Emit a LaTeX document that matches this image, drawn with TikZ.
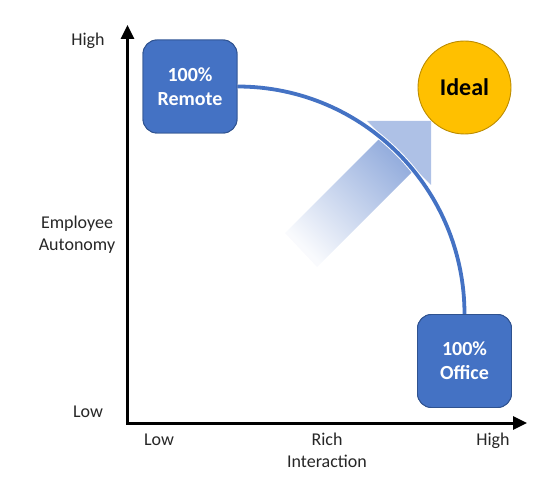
\documentclass[tikz,border=0pt]{standalone}
\usepackage{fontspec}
\setmainfont{Carlito}
\usetikzlibrary{arrows.meta,calc}
\definecolor{boxblue}{HTML}{4472C4}
\definecolor{boxedge}{HTML}{2F528F}
\definecolor{goldfill}{HTML}{FFC000}
\definecolor{goldedge}{HTML}{BC8C00}
\definecolor{headblue}{HTML}{AEC1E6}
\definecolor{shaftblue}{HTML}{94ADDD}
\definecolor{labelgray}{HTML}{262626}
\begin{document}
\begin{tikzpicture}[x=1pt,y=-1pt,
  quad/.style={draw=boxedge, line width=0.9pt, fill=boxblue, rounded corners=14pt,
    minimum width=94pt, minimum height=93pt, inner sep=0pt, text=white,
    font=\fontsize{20}{24}\selectfont\bfseries, align=center},
  goal/.style={circle, draw=goldedge, line width=0.9pt, fill=goldfill, minimum size=93pt,
    inner sep=0pt, font=\fontsize{24}{28}\selectfont\bfseries, text=black},
  axislabel/.style={font=\fontsize{18}{22}\selectfont, text=labelgray, align=center, inner sep=0pt},
  axisline/.style={line width=3pt, black, {Triangle[length=14pt,width=13pt]}-{Triangle[length=14pt,width=13pt]}},
  pathline/.style={line width=3.8pt, boxblue},
  halo/.style={line width=5.8pt, white}
]
\useasboundingbox (0,0) rectangle (560,484);

% axes
\coordinate (ytip) at (127.5,25);
\coordinate (origin) at (127.5,423);
\coordinate (xtip) at (527,423);
\draw[axisline] (ytip) |- (xtip);

% axis labels
\node[axislabel, anchor=base] (yhigh) at (88,46) {High};
\node[axislabel] (ylabel) at (77,234.5) {Employee\\Autonomy};
\node[axislabel, anchor=base] (ylow) at (88,417) {Low};
\node[axislabel, anchor=base] (xlow) at (159,445) {Low};
\node[axislabel] (xlabel) at (327,450) {Rich\\Interaction};
\node[axislabel, anchor=base] (xhigh) at (493,445) {High};

% gradient block arrow
\shade[top color=shaftblue, bottom color=shaftblue!6, shading angle=-45]
  (285,233) -- (382.5,135.5) -- (415.5,168.5) -- (317,267) -- cycle;
\fill[headblue] (367,121) -- (431,121) -- (431,185) -- cycle;

% nodes
\node[quad] (remote) at (190,86.5) {100\%\\Remote};
\node[quad] (office) at (464.5,361) {100\%\\Office};
\node[goal] (ideal) at (464.5,87.5) {Ideal};

% quarter-circle path
\draw[halo] (remote.east) .. controls ($(remote.east)+(126,0)$) and ($(office.north)+(0,-125)$) .. (office.north);
\draw[pathline] (remote.east) .. controls ($(remote.east)+(126,0)$) and ($(office.north)+(0,-125)$) .. (office.north);

% redraw boxes on top of halo ends
\node[quad] at (remote) {100\%\\Remote};
\node[quad] at (office) {100\%\\Office};
\end{tikzpicture}
\end{document}
